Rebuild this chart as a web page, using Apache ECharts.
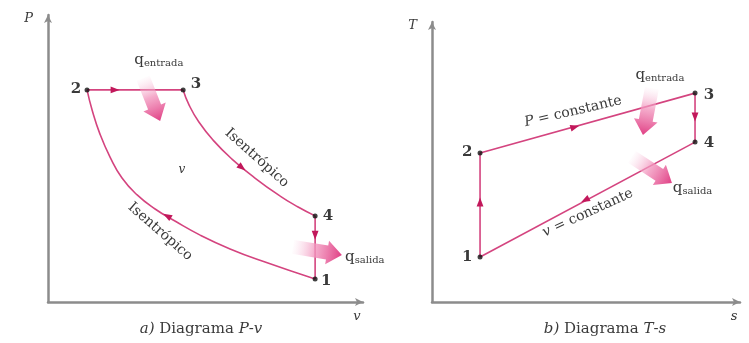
<!DOCTYPE html>
<html>
<head>
<meta charset="utf-8">
<script src="https://cdn.jsdelivr.net/npm/echarts@6/dist/echarts.min.js"></script>
<style>
  html, body { margin: 0; padding: 0; background: #fff; }
  #chart { width: 749px; height: 343px; }
</style>
</head>
<body>
<div id="chart"></div>
<script>
// Ciclo Diesel, valores (unidades arbitrarias 0-10)

// a) Diagrama P-v
const pvCompresion = [[8.48, 0.80], [6.89, 1.39], [5.78, 1.85], [4.83, 2.33], [4.03, 2.82],
  [3.40, 3.24], [2.83, 3.73], [2.35, 4.32], [1.97, 5.05], [1.65, 5.85], [1.40, 6.69], [1.24, 7.39]]
const pvEntrada = [[1.24, 7.39], [4.29, 7.39]]
const pvExpansion = [[4.29, 7.39], [4.48, 6.86], [4.79, 6.27], [5.24, 5.64], [5.84, 4.98],
  [6.57, 4.32], [7.37, 3.69], [7.94, 3.31], [8.48, 3.00]]
const pvSalida = [[8.48, 3.00], [8.48, 0.80]]
const pvEstados = [[8.48, 0.80], [1.24, 7.39], [4.29, 7.39], [8.48, 3.00]]
// flechas de sentido: punto y punto hacia el que apunta
const pvSentido = [[2.13, 7.39, 2.6, 7.39], [6.16, 4.68, 6.57, 4.32],
  [3.78, 3.00, 3.40, 3.24], [8.48, 2.33, 8.48, 1.5]]
// flechas de calor: cola -> punta
const pvCalor = [[3.02, 7.80, 3.56, 6.31], [7.78, 1.92, 9.33, 1.64]]
const pvNotas = [
  { t: '1', at: [8.83, 0.73] },
  { t: '2', at: [0.89, 7.42] },
  { t: '3', at: [4.70, 7.60] },
  { t: '4', at: [8.89, 3.00] },
  { t: 'Isentrópico', at: [6.63, 5.02], rot: -42 },
  { t: 'Isentrópico', at: [3.56, 2.45], rot: -41 },
  { t: '{v|v}', at: [4.25, 4.60] },
  { t: '{q|q}{s|entrada}', at: [3.52, 8.43] },
  { t: '{q|q}{s|salida}', at: [9.43, 1.57], align: 'left' }
]

// b) Diagrama T-s
const tsCompresion = [[1.56, 1.61], [1.56, 5.32]]
const tsEntrada = [[1.56, 5.32], [8.54, 7.46]]
const tsExpansion = [[8.54, 7.46], [8.54, 5.71]]
const tsSalida = [[8.54, 5.71], [1.56, 1.61]]
const tsEstados = [[1.56, 1.61], [1.56, 5.32], [8.54, 7.46], [8.54, 5.71]]
const tsSentido = [[1.56, 3.57, 1.56, 5.32], [4.64, 6.25, 8.54, 7.46],
  [8.54, 6.61, 8.54, 5.71], [4.97, 3.64, 1.56, 1.61]]
const tsCalor = [[7.14, 7.64, 6.85, 5.96], [6.49, 5.18, 7.79, 4.25]]
const tsNotas = [
  { t: '1', at: [1.14, 1.61] },
  { t: '2', at: [1.14, 5.36] },
  { t: '3', at: [8.99, 7.39] },
  { t: '4', at: [8.99, 5.68] },
  { t: '{i|P} = constante', at: [4.58, 6.80], rot: 13 },
  { t: '{i|v} = constante', at: [5.06, 3.18], rot: 24.6 },
  { t: '{q|q}{s|entrada}', at: [7.40, 8.11] },
  { t: '{q|q}{s|salida}', at: [7.82, 4.07], align: 'left' }
]

const ejesNombres = [['v', 'P'], ['s', 'T']]
const leyendas = ['{c|a)} Diagrama {c|P}-{c|v}', '{c|b)} Diagrama {c|T}-{c|s}']

const ROSA = '#d4447f'
const ROSA_OSCURO = '#c2185b'
const TEXTO = '#3a3a3a'
const SERIF = '"DejaVu Serif", "Liberation Serif", serif'

const richTexto = {
  i: { fontFamily: SERIF, fontStyle: 'italic', fontSize: 14, color: TEXTO },
  c: { fontFamily: SERIF, fontStyle: 'italic', fontSize: 15, color: TEXTO },
  v: { fontFamily: SERIF, fontStyle: 'italic', fontSize: 12, color: '#555' },
  q: { fontFamily: SERIF, fontSize: 15, color: TEXTO },
  s: { fontFamily: SERIF, fontSize: 10, color: TEXTO, padding: [7, 0, 0, 0] }
}

const chart = echarts.init(document.getElementById('chart'))

const ejeX = (g, nombre) => ({
  gridIndex: g, type: 'value', min: 0, max: 10,
  axisLine: { show: true, lineStyle: { color: '#8c8c8c', width: 2.5 }, symbol: ['none', 'arrow'], symbolSize: [6, 8] },
  axisTick: { show: false }, axisLabel: { show: false }, splitLine: { show: false },
  name: nombre, nameLocation: 'end', nameGap: -6,
  nameTextStyle: { fontFamily: SERIF, fontStyle: 'italic', fontSize: 13, color: TEXTO, align: 'center', verticalAlign: 'top', padding: [8, 0, 0, 0] }
})
const ejeY = (g, nombre) => ({
  gridIndex: g, type: 'value', min: 0, max: 10,
  axisLine: { show: true, lineStyle: { color: '#8c8c8c', width: 2.5 }, symbol: ['none', 'arrow'], symbolSize: [6, 8] },
  axisTick: { show: false }, axisLabel: { show: false }, splitLine: { show: false },
  name: nombre, nameLocation: 'end', nameGap: -4,
  nameTextStyle: { fontFamily: SERIF, fontStyle: 'italic', fontSize: 13, color: TEXTO, align: 'right', verticalAlign: 'middle', padding: [0, 15, 0, 0] }
})

const linea = (g, datos, suave) => ({
  type: 'line', xAxisIndex: g, yAxisIndex: g, data: datos, smooth: suave ? 0.5 : false,
  symbol: 'none', silent: true, lineStyle: { color: ROSA, width: 1.6 }, z: 2
})

const estados = (g, datos) => ({
  type: 'scatter', xAxisIndex: g, yAxisIndex: g, data: datos, symbolSize: 5,
  itemStyle: { color: '#111' }, silent: true, z: 5
})

// flechita sobre la curva
const sentido = (g, lista) => ({
  type: 'custom', xAxisIndex: g, yAxisIndex: g, silent: true, z: 4,
  data: lista.map(a => [a[0], a[1]]),
  renderItem: (params, api) => {
    const a = lista[params.dataIndex]
    const p = api.coord([a[0], a[1]])
    const q = api.coord([a[2], a[3]])
    const d = Math.hypot(q[0] - p[0], q[1] - p[1])
    const ux = (q[0] - p[0]) / d, uy = (q[1] - p[1]) / d
    const nx = -uy, ny = ux
    const L = 4.5, W = 3.4
    return {
      type: 'polygon',
      shape: { points: [
        [p[0] + ux * L, p[1] + uy * L],
        [p[0] - ux * L + nx * W, p[1] - uy * L + ny * W],
        [p[0] - ux * L - nx * W, p[1] - uy * L - ny * W]
      ] },
      style: { fill: ROSA_OSCURO }
    }
  }
})

// flecha gruesa de calor con degradado
const calor = (g, lista) => ({
  type: 'custom', xAxisIndex: g, yAxisIndex: g, silent: true, z: 3,
  data: lista.map(a => [a[0], a[1]]),
  renderItem: (params, api) => {
    const a = lista[params.dataIndex]
    const p0 = api.coord([a[0], a[1]])
    const p1 = api.coord([a[2], a[3]])
    const d = Math.hypot(p1[0] - p0[0], p1[1] - p0[1])
    const ux = (p1[0] - p0[0]) / d, uy = (p1[1] - p0[1]) / d
    const nx = -uy, ny = ux
    const bw = 7, hw = 12, hl = 15
    const b = [p1[0] - ux * hl, p1[1] - uy * hl]
    return {
      type: 'polygon',
      shape: { points: [
        [p0[0] + nx * bw, p0[1] + ny * bw],
        [b[0] + nx * bw, b[1] + ny * bw],
        [b[0] + nx * hw, b[1] + ny * hw],
        p1,
        [b[0] - nx * hw, b[1] - ny * hw],
        [b[0] - nx * bw, b[1] - ny * bw],
        [p0[0] - nx * bw, p0[1] - ny * bw]
      ] },
      style: {
        fill: new echarts.graphic.LinearGradient(p0[0], p0[1], p1[0], p1[1], [
          { offset: 0, color: 'rgba(248,205,225,0.05)' },
          { offset: 0.45, color: 'rgba(242,150,190,0.8)' },
          { offset: 1, color: '#e03f84' }
        ], true)
      }
    }
  }
})

const notas = (g, lista) => ({
  type: 'custom', xAxisIndex: g, yAxisIndex: g, silent: true, z: 6,
  data: lista.map(n => n.at),
  renderItem: (params, api) => {
    const n = lista[params.dataIndex]
    const p = api.coord(n.at)
    const esNumero = /^[0-9]$/.test(n.t)
    return {
      type: 'text',
      x: p[0], y: p[1],
      rotation: (n.rot || 0) * Math.PI / 180,
      style: {
        text: n.t,
        x: 0, y: 0,
        align: n.align || 'center',
        verticalAlign: 'middle',
        fontFamily: SERIF,
        fontSize: esNumero ? 15 : 14,
        fontWeight: esNumero ? 'bold' : 'normal',
        fill: TEXTO,
        rich: richTexto
      }
    }
  }
})

chart.setOption({
  animation: false,
  backgroundColor: '#fff',
  title: leyendas.map((t, i) => ({
    text: t,
    left: i === 0 ? 201 : 605,
    top: 322,
    padding: 0,
    textAlign: 'center',
    textStyle: { fontFamily: SERIF, fontSize: 15, fontWeight: 'normal', color: TEXTO, rich: richTexto }
  })),
  grid: [
    { left: 48, top: 15, width: 315, height: 287 },
    { left: 432, top: 22, width: 308, height: 280 }
  ],
  xAxis: [ejeX(0, ejesNombres[0][0]), ejeX(1, ejesNombres[1][0])],
  yAxis: [ejeY(0, ejesNombres[0][1]), ejeY(1, ejesNombres[1][1])],
  series: [
    linea(0, pvCompresion, true),
    linea(0, pvEntrada, false),
    linea(0, pvExpansion, true),
    linea(0, pvSalida, false),
    calor(0, pvCalor),
    sentido(0, pvSentido),
    estados(0, pvEstados),
    notas(0, pvNotas),
    linea(1, tsCompresion, false),
    linea(1, tsEntrada, false),
    linea(1, tsExpansion, false),
    linea(1, tsSalida, false),
    calor(1, tsCalor),
    sentido(1, tsSentido),
    estados(1, tsEstados),
    notas(1, tsNotas)
  ]
})
</script>
</body>
</html>
